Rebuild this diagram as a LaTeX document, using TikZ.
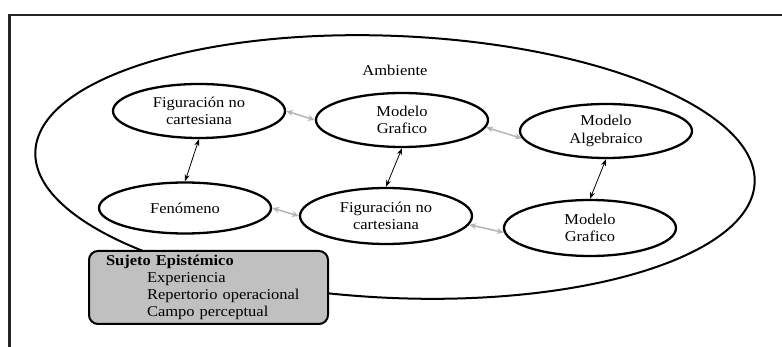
\documentclass[tikz,border=0pt]{standalone}
\usepackage{fontspec}
\setmainfont[FakeStretch=1.1]{Liberation Serif}
\usetikzlibrary{shapes.geometric,arrows.meta}
\definecolor{arrgray}{HTML}{B4B4B4}
\definecolor{boxgray}{HTML}{C0C0C0}
\tikzset{
  oval/.style={ellipse, draw=black, line width=2.3pt, minimum width=172pt, minimum height=54pt, inner sep=0pt, align=center},
  darr/.style={<->, line width=0.8pt, >={Stealth[length=7pt,width=5pt]}},
  garr/.style={<->, draw=arrgray, line width=1.5pt, >={Stealth[length=7pt,width=6pt]}},
  sbox/.style={draw=black, line width=2pt, fill=boxgray, rounded corners=9pt, minimum width=239pt, minimum height=73pt, inner xsep=17pt, text width=205pt, align=left, anchor=north west}
}
\begin{document}
\begin{tikzpicture}[x=1pt,y=-1pt,font=\fontsize{15}{17.7}\selectfont]
\useasboundingbox (0,0) rectangle (782,347);
% frame
\draw[line width=2.4pt, draw=black!85] (782,15) -- (9.5,15) -- (9.5,347);
% environment
\draw[line width=2pt] (395,167) [rotate around={-2.5:(395,167)}] ellipse [x radius=360pt, y radius=131pt];
\node (amb) at (395,70) {Ambiente};
% nodes
\node[oval] (fig1) at (199,111) {Figuración no\\cartesiana};
\node[oval] (mg1) at (402,120) {Modelo\\Grafico};
\node[oval] (ma) at (606,131) {Modelo\\Algebraico};
\node[oval, minimum height=51pt] (fen) at (185,208) {Fenómeno};
\node[oval, minimum height=56pt] (fig2) at (386,216) {Figuración no\\cartesiana};
\node[oval, minimum height=56pt] (mg2) at (590,228) {Modelo\\Grafico};
% connectors
\draw[garr] (fig1.east) -- (mg1.west);
\draw[darr] (fig1.south) -- (fen.north);
\draw[darr] (mg1.south) -- (fig2.north);
\draw[garr] (fen.east) -- (fig2.west);
\draw[garr] (mg1.-5) -- (ma.185);
\draw[darr] (ma.south) -- (mg2.north);
\draw[garr] (fig2.-6) -- (mg2.183);
% subject box
\node[sbox] (suj) at (88,250) {\fontsize{15}{17}\selectfont\textbf{Sujeto Epistémico}\\
\hspace*{41pt}Experiencia\\
\hspace*{41pt}Repertorio operacional\\
\hspace*{41pt}Campo perceptual};
\end{tikzpicture}
\end{document}
